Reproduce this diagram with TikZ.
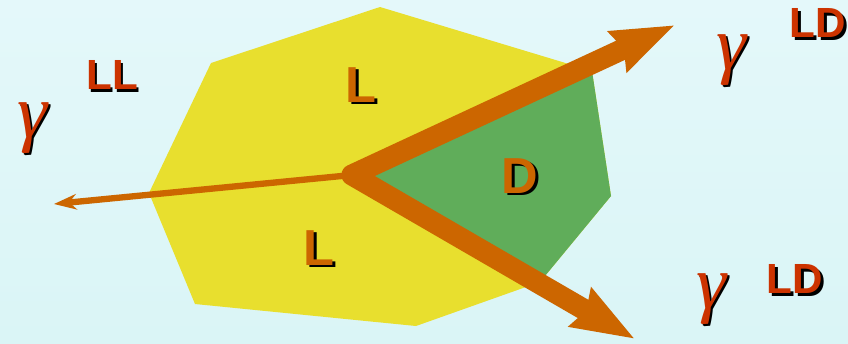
\documentclass[tikz,border=0pt]{standalone}
\usepackage{fontspec}
\setmainfont{Liberation Sans}
\newfontfamily\gammafont{Liberation Serif}
\usetikzlibrary{arrows.meta}

\definecolor{bgtop}{RGB}{228,248,250}
\definecolor{bgbot}{RGB}{218,245,246}
\definecolor{slabyellow}{RGB}{232,223,46}
\definecolor{darkgreen}{RGB}{96,173,90}
\definecolor{rayorange}{RGB}{204,102,0}
\definecolor{tagred}{RGB}{204,51,0}

\tikzset{
  region/.style={font=\fontsize{36}{36}\selectfont\bfseries,text=rayorange},
  tag/.style={font=\fontsize{30}{30}\selectfont\bfseries,text=tagred},
  photon/.style={font=\gammafont\itshape\fontsize{54}{54}\selectfont,text=tagred},
  bigtip/.tip={Stealth[length=44pt,width=30pt,inset=4pt]}
}

% label with a black drop shadow: name, position, style, text
\newcommand{\shlabel}[4]{%
  \node[#3,text=black] (#1s) at ([shift={(2.5,2.5)}]#2) {#4};
  \node[#3] (#1) at (#2) {#4};}

\begin{document}
\begin{tikzpicture}[x=0.025cm,y=-0.025cm]
  % background
  \fill[top color=bgtop,bottom color=bgbot] (0,0) rectangle (848,343);
  \useasboundingbox (0,0) rectangle (848,343);

  % meeting point and ray ends
  \coordinate (O) at (352,175);
  \coordinate (up) at (675,25);
  \coordinate (down) at (635,339);
  \coordinate (back) at (54,204);

  % the slab
  \def\slab{(380,7) -- (592,71) -- (611,196) -- (540,282) -- (416,326)
    -- (195,304) -- (149,193) -- (211,63) -- cycle}
  \fill[slabyellow] \slab;

  % green part between the two big rays
  \begin{scope}
    \clip \slab;
    \fill[darkgreen] (O) -- (1321,-275) -- (1201,667) -- cycle;
  \end{scope}

  % rays
  \draw[rayorange,line width=4.5pt,-{Stealth[length=16pt,width=11pt]}] (O) -- (back);
  \draw[rayorange,line width=15pt,line join=round,bigtip-bigtip] (up) -- (O) -- (down);

  % region labels
  \shlabel{Ltop}{361,85}{region}{L}
  \shlabel{Lbot}{319,248}{region}{L}
  \shlabel{D}{520,176}{region}{D}

  % outgoing photons
  \shlabel{gleft}{32,128}{photon}{γ}
  \shlabel{LL}{112,75}{tag}{LL}
  \shlabel{gup}{731,60}{photon}{γ}
  \shlabel{LDup}{818,23}{tag}{LD}
  \shlabel{gdown}{711,299}{photon}{γ}
  \shlabel{LDdown}{795,279}{tag}{LD}
\end{tikzpicture}
\end{document}
